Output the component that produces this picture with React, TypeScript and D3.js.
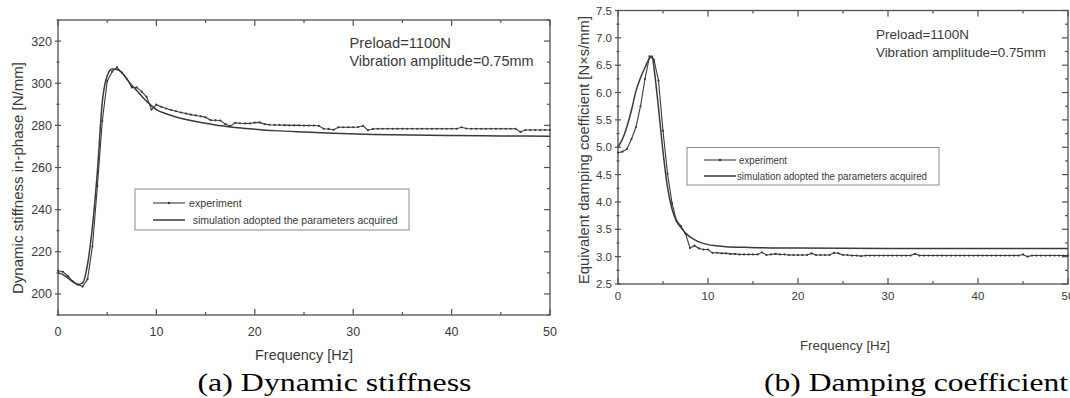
import * as d3 from "d3";

// Two Origin-style panels: dynamic stiffness and equivalent damping vs. frequency.
const SANS = "'Liberation Sans', Arial, sans-serif";
const SERIF = "'Liberation Serif', 'Times New Roman', serif";
const INK = "#3a3a3a";
const FRAME = "#505050";

// measured frequency grid (Hz)
const EXP_FREQ = [
  0, 0.5, 1, 1.5, 2, 2.5, 3, 3.5, 4, 4.5, 5, 5.5, 6, 6.5, 7, 7.5, 8, 8.5, 9, 9.5,
  10, 10.5, 11, 11.5, 12, 12.5, 13, 13.5, 14, 14.5, 15, 15.5, 16, 16.5, 17, 17.5, 18, 18.5, 19, 19.5,
  20, 20.5, 21, 21.5, 22, 22.5, 23, 23.5, 24, 24.5, 25, 25.5, 26, 26.5, 27, 27.5, 28, 28.5, 29, 29.5,
  30, 30.5, 31, 31.5, 32, 32.5, 33, 33.5, 34, 34.5, 35, 35.5, 36, 36.5, 37, 37.5, 38, 38.5, 39, 39.5,
  40, 40.5, 41, 41.5, 42, 42.5, 43, 43.5, 44, 44.5, 45, 45.5, 46, 46.5, 47, 47.5, 48, 48.5, 49, 49.5, 50,
];

// (a) dynamic stiffness in-phase [N/mm]
const STIFF_EXP = [
  211, 210.5, 208.5, 206, 204.5, 203.5, 207, 222.5, 251, 282, 301, 305.5, 307.5, 305, 302, 298, 298, 296, 293.5, 287.5,
  289.8, 288.8, 288, 287.3, 286.7, 286.1, 285.6, 285.1, 284.7, 284.3, 283.8, 282.5, 282.4, 282.3, 280.6, 279.6, 281.2, 281, 280.9, 280.9,
  281.3, 281.4, 280.6, 280.3, 280.2, 280.2, 280.1, 280, 280, 280, 279.9, 279.9, 279.9, 279.8, 278.4, 278.3, 277.9, 279.1, 279.1, 279.1,
  279.1, 279.2, 279.8, 277.7, 278.3, 278.4, 278.4, 278.4, 278.4, 278.4, 278.4, 278.4, 278.4, 278.4, 278.4, 278.4, 278.4, 278.4, 278.4, 278.4,
  278.4, 278.4, 279.1, 278.5, 278.4, 278.4, 278.4, 278.4, 278.4, 278.4, 278.4, 278.4, 278.4, 278.4, 276.9, 277.8, 277.8, 277.8, 277.8, 277.8, 277.8,
];
const STIFF_SIM_FREQ = [0, 0.5, 1, 1.5, 2, 2.5, 3, 3.5, 4, 4.5, 5, 5.5, 6, 6.5, 7, 7.5, 8, 9, 10, 11, 12, 13, 14, 15, 16, 17, 18, 20, 22, 25, 28, 32, 36, 40, 45, 50];
const STIFF_SIM = [
  210, 209.2, 207.6, 205.8, 204.4, 205.2, 214, 232, 258, 291, 303.5, 306.8, 306.5, 305, 302, 299, 296.5, 291.5, 287.5, 285.5,
  284, 282.8, 281.8, 281, 280.2, 279.6, 279, 278.2, 277.5, 276.8, 276.2, 275.7, 275.4, 275.2, 275, 274.8,
];

// (b) equivalent damping coefficient [N×s/mm]
const DAMP_EXP = [
  4.9, 4.92, 4.97, 5.15, 5.37, 5.75, 6.25, 6.66, 6.6, 6.22, 5.3, 4.52, 3.98, 3.66, 3.56, 3.42, 3.16, 3.2, 3.15, 3.13,
  3.13, 3.07, 3.07, 3.06, 3.06, 3.05, 3.05, 3.04, 3.04, 3.04, 3.04, 3.04, 3.08, 3.03, 3.04, 3.05, 3.04, 3.04, 3.03, 3.03,
  3.03, 3.03, 3.03, 3.06, 3.03, 3.03, 3.03, 3.03, 3.07, 3.06, 3.03, 3.03, 3.02, 3.02, 3.01, 3.02, 3.02, 3.02, 3.02, 3.02,
  3.02, 3.02, 3.02, 3.02, 3.02, 3.02, 3.05, 3.02, 3.02, 3.02, 3.02, 3.02, 3.02, 3.02, 3.02, 3.02, 3.02, 3.02, 3.02, 3.02,
  3.02, 3.02, 3.02, 3.02, 3.02, 3.02, 3.02, 3.02, 3.02, 3.02, 3.04, 3.0, 3.02, 3.02, 3.02, 3.02, 3.02, 3.02, 3.02, 3.02, 3.02,
];
const DAMP_SIM_FREQ = [0, 0.5, 1, 1.5, 2, 2.5, 3, 3.5, 3.8, 4, 4.5, 5, 5.5, 6, 6.5, 7, 7.5, 8, 8.5, 9, 10, 11, 12, 14, 17, 20, 30, 40, 50];
const DAMP_SIM = [
  5.0, 5.15, 5.38, 5.68, 6.03, 6.27, 6.46, 6.63, 6.67, 6.45, 5.72, 4.92, 4.27, 3.87, 3.65, 3.53, 3.43, 3.36, 3.31, 3.27,
  3.22, 3.2, 3.18, 3.17, 3.16, 3.16, 3.15, 3.15, 3.15,
];

const FREQ_TICKS = [0, 10, 20, 30, 40, 50];
const FREQ_MINOR = [5, 15, 25, 35, 45];
const STIFF_TICKS = [200, 220, 240, 260, 280, 300, 320];
const STIFF_MINOR = [190, 210, 230, 250, 270, 290, 310, 330];
const DAMP_TICKS = [2.5, 3.0, 3.5, 4.0, 4.5, 5.0, 5.5, 6.0, 6.5, 7.0, 7.5];
const DAMP_MINOR = [2.75, 3.25, 3.75, 4.25, 4.75, 5.25, 5.75, 6.25, 6.75, 7.25];

const LEGEND_LABELS = ["experiment", "simulation adopted the parameters acquired"];
const NOTE_LINES = ["Preload=1100N", "Vibration amplitude=0.75mm"];

type Box = { l: number; r: number; t: number; b: number };

interface PanelProps {
  box: Box;
  yDomain: [number, number];
  yTicks: number[];
  yMinor: number[];
  yFmt: (v: number) => string;
  expY: number[];
  simX: number[];
  simY: number[];
  tickSize: number;
  xTickBase: number;
  xLabel: { cx: number; y: number; size: number; len: number };
  yLabel: { text: string; x: number; cy: number; size: number; len: number };
  note: { x: number; y0: number; gap: number; size: number; lens: number[] };
  legend: { box: Box; rows: number[]; lineX: [number, number]; textX: number[]; lens: number[] };
  caption: { text: string; cx: number; y: number; len: number };
}

function Panel(p: PanelProps) {
  const { box } = p;
  const x = d3.scaleLinear().domain([0, 50]).range([box.l, box.r]);
  const y = d3.scaleLinear().domain(p.yDomain).range([box.b, box.t]);

  const expLine = d3.line<number>().x((_, i) => x(EXP_FREQ[i])).y((d) => y(d));
  const simLine = d3
    .line<number>()
    .x((_, i) => x(p.simX[i]))
    .y((d) => y(d))
    .curve(d3.curveMonotoneX);

  const MAJ = 6;
  const MIN = 3;

  return (
    <g>
      {/* frame */}
      <rect x={box.l} y={box.t} width={box.r - box.l} height={box.b - box.t}
        fill="none" stroke={FRAME} strokeWidth={1.3} />

      {/* x ticks, bottom and top, inward */}
      {FREQ_TICKS.map((t) => (
        <g key={`xt${t}`} stroke={FRAME} strokeWidth={1.2}>
          <line x1={x(t)} x2={x(t)} y1={box.b} y2={box.b - MAJ} />
          <line x1={x(t)} x2={x(t)} y1={box.t} y2={box.t + MAJ} />
        </g>
      ))}
      {FREQ_MINOR.map((t) => (
        <g key={`xm${t}`} stroke={FRAME} strokeWidth={1.2}>
          <line x1={x(t)} x2={x(t)} y1={box.b} y2={box.b - MIN} />
          <line x1={x(t)} x2={x(t)} y1={box.t} y2={box.t + MIN} />
        </g>
      ))}
      {FREQ_TICKS.map((t) => (
        <text key={`xl${t}`} x={x(t)} y={p.xTickBase} textAnchor="middle"
          fontFamily={SANS} fontSize={p.tickSize} fill={INK}>{t}</text>
      ))}

      {/* y ticks, left and right */}
      {p.yTicks.map((t) => (
        <g key={`yt${t}`} stroke={FRAME} strokeWidth={1.2}>
          <line x1={box.l - 3} x2={box.l + 3} y1={y(t)} y2={y(t)} />
          <line x1={box.r} x2={box.r - MAJ} y1={y(t)} y2={y(t)} />
        </g>
      ))}
      {p.yMinor.map((t) => (
        <g key={`ym${t}`} stroke={FRAME} strokeWidth={1.2}>
          <line x1={box.l - 1.5} x2={box.l + 1.5} y1={y(t)} y2={y(t)} />
          <line x1={box.r} x2={box.r - MIN} y1={y(t)} y2={y(t)} />
        </g>
      ))}
      {p.yTicks.map((t) => (
        <text key={`yl${t}`} x={box.l - 6} y={y(t)} dy="0.36em" textAnchor="end"
          fontFamily={SANS} fontSize={p.tickSize} fill={INK}>{p.yFmt(t)}</text>
      ))}

      {/* curves */}
      <path d={simLine(p.simY) ?? ""} fill="none" stroke={INK} strokeWidth={1.5} />
      <path d={expLine(p.expY) ?? ""} fill="none" stroke={INK} strokeWidth={1.1} />
      {p.expY.map((v, i) => (
        <circle key={i} cx={x(EXP_FREQ[i])} cy={y(v)} r={1.1} fill={INK} />
      ))}

      {/* axis titles */}
      <text x={p.xLabel.cx} y={p.xLabel.y} textAnchor="middle" fontFamily={SANS}
        fontSize={p.xLabel.size} fill={INK} textLength={p.xLabel.len}
        lengthAdjust="spacingAndGlyphs">Frequency [Hz]</text>
      <text transform={`translate(${p.yLabel.x},${p.yLabel.cy}) rotate(-90)`}
        textAnchor="middle" dy="0.35em" fontFamily={SANS} fontSize={p.yLabel.size}
        fill={INK} textLength={p.yLabel.len} lengthAdjust="spacingAndGlyphs">
        {p.yLabel.text}
      </text>

      {/* annotation */}
      {NOTE_LINES.map((s, i) => (
        <text key={s} x={p.note.x} y={p.note.y0 + i * p.note.gap} fontFamily={SANS}
          fontSize={p.note.size} fill={INK} textLength={p.note.lens[i]}
          lengthAdjust="spacingAndGlyphs">{s}</text>
      ))}

      {/* legend */}
      <rect x={p.legend.box.l} y={p.legend.box.t} width={p.legend.box.r - p.legend.box.l}
        height={p.legend.box.b - p.legend.box.t} fill="white" stroke="#8a8a8a" strokeWidth={1} />
      {LEGEND_LABELS.map((s, i) => {
        const ly = p.legend.rows[i];
        const [lx0, lx1] = p.legend.lineX;
        return (
          <g key={s}>
            <line x1={lx0} x2={lx1} y1={ly} y2={ly} stroke={INK} strokeWidth={i === 0 ? 1.1 : 1.5} />
            {i === 0 && <circle cx={(lx0 + lx1) / 2} cy={ly} r={1.2} fill={INK} />}
            <text x={p.legend.textX[i]} y={ly} dy="0.35em" fontFamily={SANS} fontSize={10}
              fill={INK} textLength={p.legend.lens[i]} lengthAdjust="spacingAndGlyphs">{s}</text>
          </g>
        );
      })}

      {/* caption */}
      <text x={p.caption.cx} y={p.caption.y} textAnchor="middle" fontFamily={SERIF}
        fontSize={25.5} fill="#000" textLength={p.caption.len}
        lengthAdjust="spacingAndGlyphs">{p.caption.text}</text>
    </g>
  );
}

export default function App() {
  return (
    <div style={{ position: "absolute", left: 0, top: 0, background: "white" }}>
      <svg width={1070} height={398} style={{ display: "block" }}>
        <rect width={1070} height={398} fill="white" />
        <Panel
          box={{ l: 58, r: 550, t: 20, b: 315 }}
          yDomain={[190, 330]}
          yTicks={STIFF_TICKS}
          yMinor={STIFF_MINOR}
          yFmt={(v) => String(v)}
          expY={STIFF_EXP}
          simX={STIFF_SIM_FREQ}
          simY={STIFF_SIM}
          tickSize={12.5}
          xTickBase={336}
          xLabel={{ cx: 304, y: 360, size: 14.5, len: 98 }}
          yLabel={{ text: "Dynamic stiffness in-phase [N/mm]", x: 18, cy: 178, size: 14.5, len: 232 }}
          note={{ x: 349.5, y0: 48, gap: 18, size: 14.5, lens: [101.5, 184] }}
          legend={{ box: { l: 135, r: 409, t: 189, b: 230 }, rows: [203, 220], lineX: [153, 185], textX: [189, 192.7], lens: [52.7, 205] }}
          caption={{ text: "(a) Dynamic stiffness", cx: 334.5, y: 391, len: 274 }}
        />
        <Panel
          box={{ l: 618, r: 1068, t: 10.5, b: 284 }}
          yDomain={[2.5, 7.5]}
          yTicks={DAMP_TICKS}
          yMinor={DAMP_MINOR}
          yFmt={(v) => v.toFixed(1)}
          expY={DAMP_EXP}
          simX={DAMP_SIM_FREQ}
          simY={DAMP_SIM}
          tickSize={11.5}
          xTickBase={300}
          xLabel={{ cx: 845, y: 350, size: 13.5, len: 90 }}
          yLabel={{ text: "Equivalent damping coefficient [N×s/mm]", x: 584, cy: 150, size: 14, len: 268 }}
          note={{ x: 876, y0: 39, gap: 18, size: 13.5, lens: [93, 170] }}
          legend={{ box: { l: 687, r: 939, t: 147.5, b: 185 }, rows: [160, 176], lineX: [704, 736], textX: [739, 737], lens: [48, 190] }}
          caption={{ text: "(b) Damping coefficient", cx: 916, y: 391, len: 304 }}
        />
      </svg>
    </div>
  );
}
